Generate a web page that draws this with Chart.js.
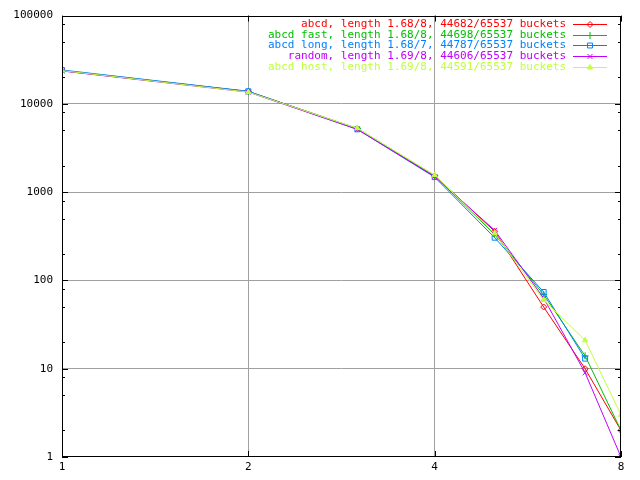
<!DOCTYPE html>
<html>
<head>
<meta charset="utf-8">
<style>
  html, body { margin: 0; padding: 0; background: #fff; }
  #wrap { width: 640px; height: 480px; }
</style>
</head>
<body>
<div id="wrap">
  <canvas id="myChart" width="640" height="480"></canvas>
</div>

<script src="https://cdn.jsdelivr.net/npm/chart.js"></script>

<script>
// chain length in bucket (x), number of buckets with that length (y)
const lengths = [1, 2, 3, 4, 5, 6, 7, 8];

const abcdCounts   = [23700, 13800, 5250, 1540, 360, 50, 10, 2];
const fastCounts   = [23900, 13800, 5250, 1520, 333, 69, 14, 2];
const longCounts   = [24200, 13900, 5150, 1480, 305, 74, 13];
const randomCounts = [23600, 13600, 5150, 1500, 370, 63, 9, 1];
const hostCounts   = [23800, 13600, 5300, 1560, 342, 60, 21, 3];

const seriesLabels = [
  'abcd, length 1.68/8, 44682/65537 buckets',
  'abcd fast, length 1.68/8, 44698/65537 buckets',
  'abcd long, length 1.68/7, 44787/65537 buckets',
  'random, length 1.69/8, 44606/65537 buckets',
  'abcd host, length 1.69/8, 44591/65537 buckets'
];

const xTicks = [1, 2, 4, 8];
const yTicks = [1, 10, 100, 1000, 10000, 100000];

const FONT = '"DejaVu Sans Mono", "Liberation Mono", monospace';

function pts(ys) {
  return ys.map((y, i) => ({ x: lengths[i], y: y }));
}

const styles = [
  { color: '#ff0000', point: 'rectRot', fill: false, r: 3 },
  { color: '#00c000', point: 'cross', fill: false, r: 3.5 },
  { color: '#0080ff', point: 'rect', fill: false, r: 3.5 },
  { color: '#c000ff', point: 'crossRot', fill: false, r: 3.5 },
  { color: '#c0ff40', point: 'triangle', fill: true, r: 3 }
];

const allCounts = [abcdCounts, fastCounts, longCounts, randomCounts, hostCounts];

const datasets = allCounts.map((c, i) => ({
  label: seriesLabels[i],
  data: pts(c),
  borderColor: styles[i].color,
  backgroundColor: styles[i].fill ? styles[i].color : 'rgba(0,0,0,0)',
  borderWidth: 1,
  pointStyle: styles[i].point,
  pointRadius: styles[i].r,
  pointBorderWidth: 1,
  pointHoverRadius: styles[i].r,
  tension: 0,
  order: 4 - i   // later series painted on top, like gnuplot
}));

// gnuplot-ish frame, inner ticks and the key in the top right corner
const gnuplotLook = {
  id: 'gnuplotLook',
  afterDraw(chart) {
    const c = chart.ctx;
    const a = chart.chartArea;
    const xs = chart.scales.x;
    const ys = chart.scales.y;
    c.save();
    c.strokeStyle = '#000';
    c.lineWidth = 1;
    c.strokeRect(Math.round(a.left) + 0.5, Math.round(a.top) + 0.5,
                 Math.round(a.right - a.left) - 1, Math.round(a.bottom - a.top) - 1);

    c.beginPath();
    // y ticks, major and minor (2, 5, 8)
    for (let d = 1; d <= 100000; d *= 10) {
      const py = Math.round(ys.getPixelForValue(d)) + 0.5;
      c.moveTo(a.left, py); c.lineTo(a.left + 6, py);
      c.moveTo(a.right, py); c.lineTo(a.right - 6, py);
      if (d < 100000) {
        [2, 5, 8].forEach(m => {
          const my = Math.round(ys.getPixelForValue(d * m)) + 0.5;
          c.moveTo(a.left, my); c.lineTo(a.left + 3, my);
          c.moveTo(a.right, my); c.lineTo(a.right - 3, my);
        });
      }
    }
    xTicks.forEach(v => {
      const px = Math.round(xs.getPixelForValue(v)) + 0.5;
      c.moveTo(px, a.bottom); c.lineTo(px, a.bottom - 6);
      c.moveTo(px, a.top); c.lineTo(px, a.top + 6);
    });
    c.stroke();

    // key
    c.font = '11px ' + FONT;
    c.textAlign = 'right';
    c.textBaseline = 'middle';
    chart.data.datasets.forEach((ds, i) => {
      const y = 24 + i * 10.7;
      c.fillStyle = ds.borderColor;
      c.fillText(ds.label, 566, y);
      c.strokeStyle = ds.borderColor;
      c.beginPath();
      c.moveTo(573, Math.round(y) + 0.5);
      c.lineTo(607, Math.round(y) + 0.5);
      c.stroke();
      c.fillStyle = ds.backgroundColor;
      Chart.helpers.drawPoint(c, {
        pointStyle: ds.pointStyle, radius: ds.pointRadius, rotation: 0, borderWidth: 1
      }, 590, Math.round(y) + 0.5);
    });
    c.restore();
  }
};

const ctx = document.getElementById('myChart');

new Chart(ctx, {
  type: 'line',
  data: { datasets: datasets },
  plugins: [gnuplotLook],
  options: {
    responsive: false,
    animation: false,
    events: [],
    layout: { padding: { top: 13, right: 19, left: 0, bottom: 0 } },
    plugins: {
      legend: { display: false },
      tooltip: { enabled: false }
    },
    scales: {
      x: {
        type: 'logarithmic',
        min: 1,
        max: 8,
        afterBuildTicks: s => { s.ticks = xTicks.map(v => ({ value: v })); },
        afterFit: s => { s.height = 23; },
        ticks: {
          color: '#000',
          font: { family: FONT, size: 11 },
          padding: 4,
          maxRotation: 0,
          autoSkip: false,
          callback: v => String(v)
        },
        grid: {
          drawTicks: false,
          color: c => (c.tick && (c.tick.value === 1 || c.tick.value === 8)) ? 'rgba(0,0,0,0)' : '#a0a0a0'
        },
        border: { display: false }
      },
      y: {
        type: 'logarithmic',
        min: 1,
        max: 100000,
        afterBuildTicks: s => { s.ticks = yTicks.map(v => ({ value: v })); },
        afterFit: s => { s.width = 62; },
        ticks: {
          color: '#000',
          font: { family: FONT, size: 11 },
          padding: 9,
          autoSkip: false,
          callback: v => String(v)
        },
        grid: {
          drawTicks: false,
          color: c => (c.tick && (c.tick.value === 1 || c.tick.value === 100000)) ? 'rgba(0,0,0,0)' : '#a0a0a0'
        },
        border: { display: false }
      }
    }
  }
});
</script>
</body>
</html>
